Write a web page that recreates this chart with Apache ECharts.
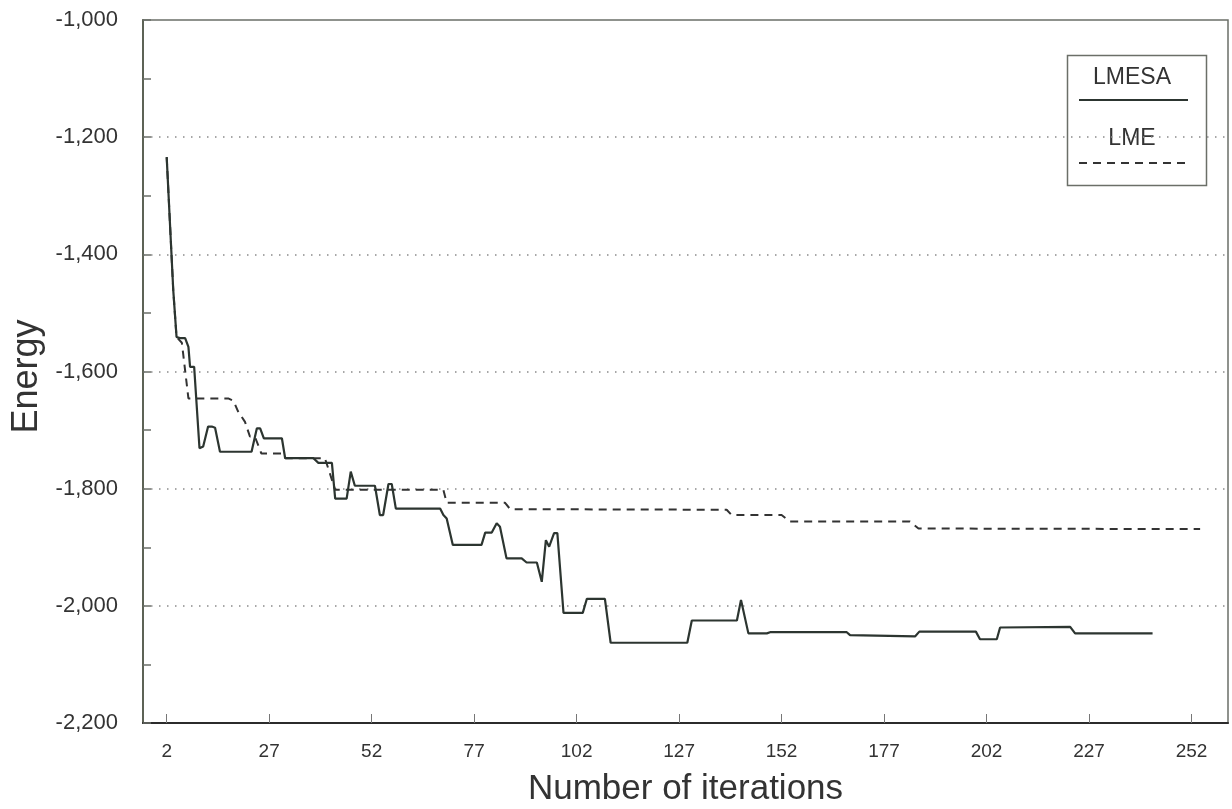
<!DOCTYPE html>
<html><head><meta charset="utf-8">
<script src="https://cdn.jsdelivr.net/npm/echarts@6/dist/echarts.min.js"></script>
<style>html,body{margin:0;padding:0;background:#fff}#c{width:1232px;height:809px}</style>
</head><body><div id="c"></div>
<script>
// LMESA (solid line)
const lmesaIter = [2, 3.6, 4.4, 5.2, 6.5, 7.3, 7.7, 8.7, 10.0, 10.9, 12.1, 13.0, 13.8, 15.0, 22.7, 24.0, 24.8, 25.7, 30.1, 30.9, 37.8, 39.0, 42.3, 43.1, 45.9, 46.9, 47.9, 52.8, 54.0, 54.8, 56.1, 56.9, 57.9, 68.7, 69.5, 70.3, 71.8, 78.8, 79.7, 81.3, 82.5, 83.3, 84.9, 88.6, 89.8, 92.3, 93.5, 94.5, 95.3, 96.5, 97.3, 98.8, 103.5, 104.5, 108.9, 110.3, 129.0, 130.1, 141.1, 142.1, 143.9, 148.4, 149.2, 167.9, 168.7, 184.6, 185.6, 199.4, 200.4, 204.5, 205.3, 222.4, 223.6, 242.5];
const lmesaEnergy = [-1234, -1461, -1541, -1543, -1543, -1558, -1592, -1592, -1731, -1728, -1694, -1694, -1696, -1737, -1737, -1697, -1697, -1714, -1714, -1748, -1748, -1756, -1756, -1817, -1817, -1771, -1795, -1795, -1845, -1845, -1792, -1792, -1834, -1834, -1845, -1851, -1896, -1896, -1875, -1875, -1859, -1865, -1919, -1919, -1926, -1926, -1959, -1888, -1899, -1876, -1876, -2012, -2012, -1988, -1988, -2063, -2063, -2025, -2025, -1990, -2047, -2047, -2045, -2045, -2050, -2052, -2044, -2044, -2057, -2057, -2037, -2036, -2047, -2047];
// LME (dashed line)
const lmeIter = [2, 3.6, 4.4, 5.7, 7.3, 17.0, 18.3, 19.4, 21.1, 22.3, 23.5, 25.1, 30.1, 31.0, 40.6, 43.1, 69.5, 70.3, 84.5, 85.8, 138.6, 139.8, 152.0, 154.0, 183.3, 185.4, 254.1];
const lmeEnergy = [-1234, -1461, -1541, -1551, -1646, -1646, -1650, -1668, -1686, -1711, -1711, -1740, -1740, -1748, -1748, -1802, -1802, -1824, -1824, -1835, -1836, -1845, -1845, -1856, -1856, -1868, -1869];
// x tick labels
const xTickValues = [2, 27, 52, 77, 102, 127, 152, 177, 202, 227, 252];
const seriesNames = ['LMESA', 'LME'];
const xTitle = 'Number of iterations';
const yTitle = 'Energy';

const zip = (a, b) => a.map((v, i) => [v, b[i]]);
const FONT = "'Liberation Sans', Arial, sans-serif";

const chart = echarts.init(document.getElementById('c'), null, {renderer: 'canvas'});
chart.setOption({
  animation: false,
  backgroundColor: '#ffffff',
  grid: {left: 143, right: 4, top: 20, bottom: 86, show: true, borderColor: '#6b6f68', borderWidth: 1.5,
    containLabel: false, outerBoundsMode: 'none'},
  xAxis: {
    type: 'value', min: -3.78, max: 260.9,
    name: xTitle, nameLocation: 'middle', nameGap: 49,
    nameTextStyle: {fontFamily: FONT, fontSize: 35, color: '#333'},
    axisLine: {show: true, onZero: false, lineStyle: {color: '#2b2b2b', width: 2}},
    axisTick: {show: true, inside: true, length: 9, customValues: xTickValues, lineStyle: {color: '#777', width: 1}},
    axisLabel: {customValues: xTickValues, margin: 19, fontFamily: FONT, fontSize: 19, color: '#333'},
    splitLine: {show: false}
  },
  yAxis: {
    type: 'value', min: -2200, max: -1000, interval: 200,
    name: yTitle, nameLocation: 'middle', nameGap: 97, nameRotate: 90,
    nameTextStyle: {fontFamily: FONT, fontSize: 36, color: '#333', padding: [0, 10, 0, 0]},
    axisLine: {show: true, onZero: false, lineStyle: {color: '#5d6356', width: 2}},
    axisTick: {show: true, inside: true, length: 8, lineStyle: {color: '#6b6f68', width: 1.5}},
    minorTick: {show: true, splitNumber: 2, length: 8, lineStyle: {color: '#6b6f68', width: 1.5}},
    axisLabel: {margin: 25, fontFamily: FONT, fontSize: 22, color: '#333',
      formatter: v => v.toLocaleString('en-US')},
    splitLine: {show: true, showMinLine: false, showMaxLine: false, lineStyle: {color: '#8a8a8a', width: 1.5, type: [1.5, 6.5]}}
  },
  series: [
    {name: seriesNames[0], type: 'line', data: zip(lmesaIter, lmesaEnergy), showSymbol: false, z: 3,
      lineStyle: {color: '#2c3530', width: 2.2}},
    {name: seriesNames[1], type: 'line', data: zip(lmeIter, lmeEnergy), showSymbol: false, z: 2,
      lineStyle: {color: '#333', width: 2, type: [8, 6]}}
  ],
  graphic: [
    {type: 'rect', left: 1065, top: 53, shape: {width: 139, height: 130}, style: {fill: 'none', stroke: '#6b6f68', lineWidth: 1.5}},
    {type: 'text', x: 1132, y: 78, style: {text: seriesNames[0], fontFamily: FONT, fontSize: 23, fill: '#333', align: 'center', verticalAlign: 'middle'}},
    {type: 'line', shape: {x1: 1079, y1: 100, x2: 1188, y2: 100}, style: {stroke: '#2c3530', lineWidth: 2}},
    {type: 'text', x: 1132, y: 139, style: {text: seriesNames[1], fontFamily: FONT, fontSize: 23, fill: '#333', align: 'center', verticalAlign: 'middle'}},
    {type: 'line', shape: {x1: 1079, y1: 163, x2: 1188, y2: 163}, style: {stroke: '#333', lineWidth: 2, lineDash: [8, 6]}}
  ]
});
</script></body></html>
